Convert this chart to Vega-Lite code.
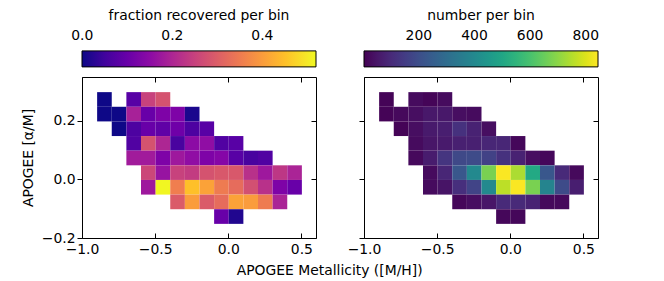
{
 "$schema": "https://vega.github.io/schema/vega-lite/v6.json",
 "padding": {"left": 21, "top": 9, "right": 5, "bottom": 5},
 "datasets": {"bins": [
  {"fe": -0.85, "al": 0.275, "f": 0.0, "n": 10},
  {"fe": -0.65, "al": 0.275, "f": 0.08, "n": 25},
  {"fe": -0.55, "al": 0.275, "f": 0.25, "n": 12},
  {"fe": -0.45, "al": 0.275, "f": 0.28, "n": 25},
  {"fe": -0.85, "al": 0.225, "f": 0.0, "n": 10},
  {"fe": -0.75, "al": 0.225, "f": 0.0, "n": 20},
  {"fe": -0.65, "al": 0.225, "f": 0.19, "n": 30},
  {"fe": -0.55, "al": 0.225, "f": 0.10, "n": 55},
  {"fe": -0.45, "al": 0.225, "f": 0.13, "n": 55},
  {"fe": -0.35, "al": 0.225, "f": 0.13, "n": 30},
  {"fe": -0.25, "al": 0.225, "f": 0.01, "n": 25},
  {"fe": -0.75, "al": 0.175, "f": 0.0, "n": 10},
  {"fe": -0.65, "al": 0.175, "f": 0.065, "n": 30},
  {"fe": -0.55, "al": 0.175, "f": 0.10, "n": 60},
  {"fe": -0.45, "al": 0.175, "f": 0.09, "n": 70},
  {"fe": -0.35, "al": 0.175, "f": 0.11, "n": 120},
  {"fe": -0.25, "al": 0.175, "f": 0.065, "n": 80},
  {"fe": -0.15, "al": 0.175, "f": 0.08, "n": 30},
  {"fe": -0.65, "al": 0.125, "f": 0.07, "n": 25},
  {"fe": -0.55, "al": 0.125, "f": 0.28, "n": 50},
  {"fe": -0.45, "al": 0.125, "f": 0.20, "n": 60},
  {"fe": -0.35, "al": 0.125, "f": 0.06, "n": 75},
  {"fe": -0.25, "al": 0.125, "f": 0.15, "n": 75},
  {"fe": -0.15, "al": 0.125, "f": 0.155, "n": 90},
  {"fe": -0.05, "al": 0.125, "f": 0.07, "n": 90},
  {"fe": 0.05, "al": 0.125, "f": 0.08, "n": 15},
  {"fe": -0.65, "al": 0.075, "f": 0.18, "n": 20},
  {"fe": -0.55, "al": 0.075, "f": 0.18, "n": 65},
  {"fe": -0.45, "al": 0.075, "f": 0.13, "n": 130},
  {"fe": -0.35, "al": 0.075, "f": 0.175, "n": 185},
  {"fe": -0.25, "al": 0.075, "f": 0.155, "n": 190},
  {"fe": -0.15, "al": 0.075, "f": 0.13, "n": 165},
  {"fe": -0.05, "al": 0.075, "f": 0.14, "n": 120},
  {"fe": 0.05, "al": 0.075, "f": 0.08, "n": 80},
  {"fe": 0.15, "al": 0.075, "f": 0.06, "n": 30},
  {"fe": 0.25, "al": 0.075, "f": 0.07, "n": 15},
  {"fe": -0.55, "al": 0.025, "f": 0.26, "n": 25},
  {"fe": -0.45, "al": 0.025, "f": 0.165, "n": 90},
  {"fe": -0.35, "al": 0.025, "f": 0.25, "n": 230},
  {"fe": -0.25, "al": 0.025, "f": 0.24, "n": 400},
  {"fe": -0.15, "al": 0.025, "f": 0.28, "n": 675},
  {"fe": -0.05, "al": 0.025, "f": 0.29, "n": 840},
  {"fe": 0.05, "al": 0.025, "f": 0.29, "n": 740},
  {"fe": 0.15, "al": 0.025, "f": 0.22, "n": 510},
  {"fe": 0.25, "al": 0.025, "f": 0.175, "n": 230},
  {"fe": 0.35, "al": 0.025, "f": 0.23, "n": 100},
  {"fe": 0.45, "al": 0.025, "f": 0.195, "n": 20},
  {"fe": -0.55, "al": -0.025, "f": 0.175, "n": 25},
  {"fe": -0.45, "al": -0.025, "f": 0.516, "n": 45},
  {"fe": -0.35, "al": -0.025, "f": 0.355, "n": 115},
  {"fe": -0.25, "al": -0.025, "f": 0.45, "n": 170},
  {"fe": -0.15, "al": -0.025, "f": 0.41, "n": 400},
  {"fe": -0.05, "al": -0.025, "f": 0.35, "n": 760},
  {"fe": 0.05, "al": -0.025, "f": 0.325, "n": 840},
  {"fe": 0.15, "al": -0.025, "f": 0.275, "n": 675},
  {"fe": 0.25, "al": -0.025, "f": 0.22, "n": 380},
  {"fe": 0.35, "al": -0.025, "f": 0.13, "n": 190},
  {"fe": 0.45, "al": -0.025, "f": 0.10, "n": 70},
  {"fe": -0.35, "al": -0.075, "f": 0.295, "n": 15},
  {"fe": -0.25, "al": -0.075, "f": 0.40, "n": 30},
  {"fe": -0.15, "al": -0.075, "f": 0.295, "n": 50},
  {"fe": -0.05, "al": -0.075, "f": 0.325, "n": 100},
  {"fe": 0.05, "al": -0.075, "f": 0.41, "n": 100},
  {"fe": 0.15, "al": -0.075, "f": 0.40, "n": 80},
  {"fe": 0.25, "al": -0.075, "f": 0.35, "n": 20},
  {"fe": 0.35, "al": -0.075, "f": 0.195, "n": 20},
  {"fe": -0.05, "al": -0.125, "f": 0.10, "n": 15},
  {"fe": 0.05, "al": -0.125, "f": 0.015, "n": 15}
 ]},
 "config": {
  "view": {"stroke": null},
  "font": "DejaVu Sans",
  "axis": {"labelFont": "DejaVu Sans", "labelFontSize": 13.9, "labelColor": "black", "tickColor": "black", "domainColor": "black", "tickWidth": 1, "domainWidth": 1, "grid": false, "titleFont": "DejaVu Sans", "titleFontSize": 13.9, "titleFontWeight": "normal", "titleColor": "black", "labelFlush": false},
  "legend": {"orient": "none", "legendX": 0, "legendY": -68, "direction": "horizontal", "gradientLength": 234, "gradientThickness": 16, "titleAnchor": "middle", "titleFontSize": 13.9, "titleFontWeight": "normal", "titleFont": "DejaVu Sans", "titleColor": "black", "titlePadding": 28, "titleLimit": 400, "labelFontSize": 13.9, "labelFont": "DejaVu Sans", "labelColor": "black", "gradientStrokeColor": "black", "gradientStrokeWidth": 1}
 },
 "title": {"text": "APOGEE Metallicity ([M/H])", "orient": "bottom", "anchor": "middle", "fontSize": 13.9, "fontWeight": "normal", "font": "DejaVu Sans", "color": "black", "offset": 8, "dx": 19},
 "spacing": 30,
 "resolve": {"scale": {"color": "independent"}},
 "hconcat": [
  {
   "width": 234, "height": 161,
   "data": {"name": "bins"},
   "layer": [
    {"mark": {"type": "rect"}, "encoding": {
      "x": {"field": "fe", "type": "quantitative", "bin": {"step": 0.1, "extent": [-1, 0.6]}, "scale": {"domain": [-1, 0.6], "nice": false, "zero": false}, "axis": {"orient": "bottom", "values": [-1, -0.5, 0, 0.5], "format": ".1f", "tickSize": -5, "labelPadding": 9, "title": null}},
      "y": {"field": "al", "type": "quantitative", "bin": {"step": 0.05, "extent": [-0.2, 0.35]}, "scale": {"domain": [-0.2, 0.35], "nice": false, "zero": false}, "axis": {"orient": "left", "values": [-0.2, 0, 0.2], "format": ".1f", "tickSize": 5, "labelPadding": 2, "title": "APOGEE [α/M]", "titlePadding": 6}},
      "color": {"field": "f", "type": "quantitative", "scale": {"scheme": "plasma", "domain": [-0.0006, 0.519], "clamp": true}, "legend": {"title": "fraction recovered per bin", "values": [0, 0.2, 0.4], "format": ".1f", "labelOffset": -37.5, "labelAlign": "center"}}
    }},
    {"mark": {"type": "rect", "opacity": 0}, "encoding": {
      "x": {"field": "fe", "type": "quantitative", "bin": {"step": 0.1, "extent": [-1, 0.6]}, "scale": {"domain": [-1, 0.6], "nice": false, "zero": false}, "axis": {"orient": "top", "values": [-1, -0.5, 0, 0.5], "labels": false, "tickSize": -5, "title": null}},
      "y": {"field": "al", "type": "quantitative", "bin": {"step": 0.05, "extent": [-0.2, 0.35]}, "scale": {"domain": [-0.2, 0.35], "nice": false, "zero": false}, "axis": {"orient": "right", "values": [-0.2, 0, 0.2], "labels": false, "tickSize": -5, "title": null}}
    }}
   ],
   "resolve": {"axis": {"x": "independent", "y": "independent"}}
  },
  {
   "width": 234, "height": 161,
   "data": {"name": "bins"},
   "layer": [
    {"mark": {"type": "rect"}, "encoding": {
      "x": {"field": "fe", "type": "quantitative", "bin": {"step": 0.1, "extent": [-1, 0.6]}, "scale": {"domain": [-1, 0.6], "nice": false, "zero": false}, "axis": {"orient": "bottom", "values": [-1, -0.5, 0, 0.5], "format": ".1f", "tickSize": -5, "labelPadding": 9, "title": null}},
      "y": {"field": "al", "type": "quantitative", "bin": {"step": 0.05, "extent": [-0.2, 0.35]}, "scale": {"domain": [-0.2, 0.35], "nice": false, "zero": false}, "axis": {"orient": "left", "values": [-0.2, 0, 0.2], "labels": false, "tickSize": 5, "title": null}},
      "color": {"field": "n", "type": "quantitative", "scale": {"scheme": "viridis", "domain": [3, 844], "clamp": true}, "legend": {"title": "number per bin", "values": [200, 400, 600, 800], "format": "d", "labelOffset": -37.5, "labelAlign": "center"}}
    }},
    {"mark": {"type": "rect", "opacity": 0}, "encoding": {
      "x": {"field": "fe", "type": "quantitative", "bin": {"step": 0.1, "extent": [-1, 0.6]}, "scale": {"domain": [-1, 0.6], "nice": false, "zero": false}, "axis": {"orient": "top", "values": [-1, -0.5, 0, 0.5], "labels": false, "tickSize": -5, "title": null}},
      "y": {"field": "al", "type": "quantitative", "bin": {"step": 0.05, "extent": [-0.2, 0.35]}, "scale": {"domain": [-0.2, 0.35], "nice": false, "zero": false}, "axis": {"orient": "right", "values": [-0.2, 0, 0.2], "labels": false, "tickSize": -5, "title": null}}
    }}
   ],
   "resolve": {"axis": {"x": "independent", "y": "independent"}}
  }
 ]
}
